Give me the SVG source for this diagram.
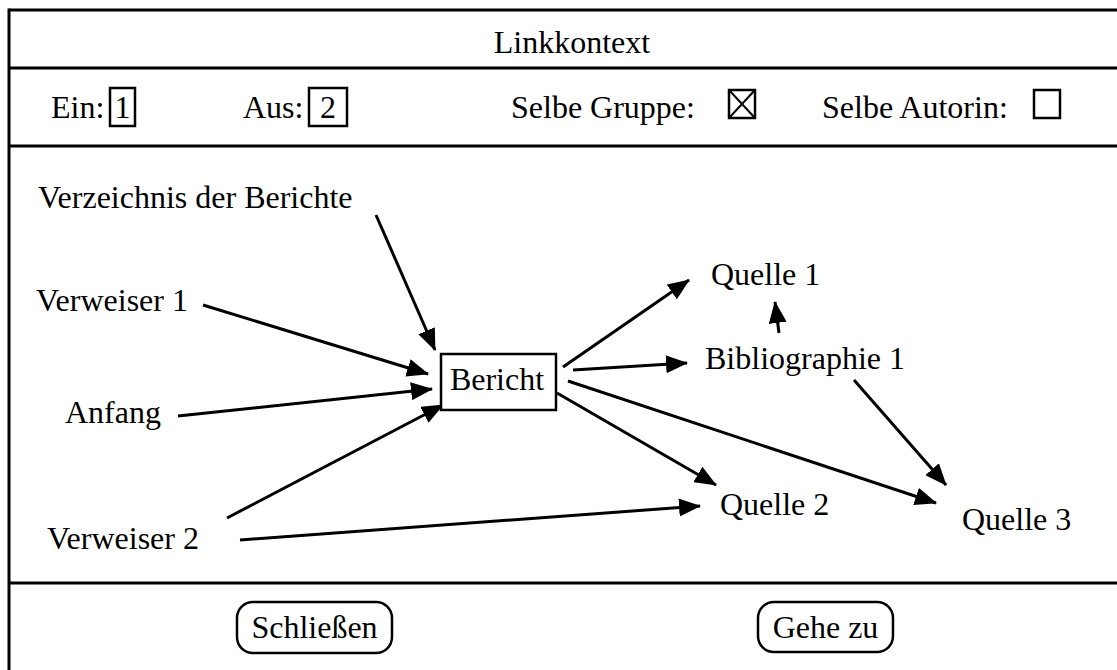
<svg xmlns="http://www.w3.org/2000/svg" width="1117" height="670" viewBox="0 0 1117 670">
  <style>
    text { font-family: "Liberation Serif", "Times New Roman", serif; font-size: 32px; fill: #000; }
    .rule { stroke: #000; stroke-width: 3; fill: none; }
    .box { stroke: #000; stroke-width: 2.5; fill: #fff; }
    .btn { stroke: #000; stroke-width: 2.5; fill: #fff; }
    .edge { stroke: #000; stroke-width: 3; fill: none; marker-end: url(#arrow); }
  </style>
  <defs>
    <marker id="arrow" markerUnits="userSpaceOnUse" viewBox="0 0 22 18" markerWidth="22" markerHeight="18" refX="21" refY="9" orient="auto">
      <path d="M0,0 L22,9 L0,18 Z" fill="#000"/>
    </marker>
  </defs>

  <rect width="1117" height="670" fill="#fff"/>

  <!-- window frame and section rules -->
  <g id="frame">
    <line class="rule" x1="9" y1="10" x2="1117" y2="10"/>
    <line class="rule" x1="9" y1="8.5" x2="9" y2="670"/>
    <line class="rule" x1="9" y1="68" x2="1117" y2="68"/>
    <line class="rule" x1="9" y1="146" x2="1117" y2="146"/>
    <line class="rule" x1="9" y1="583" x2="1117" y2="583"/>
  </g>

  <g id="title">
    <text x="572" y="53" text-anchor="middle">Linkkontext</text>
  </g>

  <!-- filter row -->
  <g id="filter-in">
    <text x="51" y="118">Ein:</text>
    <rect class="box" x="110" y="88" width="25" height="38"/>
    <text x="122.5" y="118" text-anchor="middle">1</text>
  </g>
  <g id="filter-out">
    <text x="243" y="118">Aus:</text>
    <rect class="box" x="309" y="88" width="38" height="38"/>
    <text x="328" y="118" text-anchor="middle">2</text>
  </g>
  <g id="same-group">
    <text x="511" y="118">Selbe Gruppe:</text>
    <rect class="box" x="729" y="90" width="26" height="28"/>
    <path d="M729,90 L755,118 M755,90 L729,118" stroke="#000" stroke-width="2"/>
  </g>
  <g id="same-author">
    <text x="822" y="118">Selbe Autorin:</text>
    <rect class="box" x="1034" y="90" width="26" height="28"/>
  </g>

  <!-- link graph -->
  <g id="connectors">
    <line class="edge" x1="376" y1="215" x2="435" y2="350"/>
    <line class="edge" x1="203" y1="305" x2="428" y2="374"/>
    <line class="edge" x1="178" y1="416" x2="432" y2="389"/>
    <line class="edge" x1="227" y1="518" x2="443" y2="405"/>
    <line class="edge" x1="240" y1="540" x2="700" y2="506"/>
    <line class="edge" x1="563" y1="367" x2="689" y2="280"/>
    <line class="edge" x1="573" y1="370" x2="687" y2="363"/>
    <line class="edge" x1="779" y1="333" x2="775" y2="302"/>
    <line class="edge" x1="557" y1="393" x2="716" y2="485"/>
    <line class="edge" x1="568" y1="381" x2="936" y2="503"/>
    <line class="edge" x1="854" y1="380" x2="946" y2="485"/>
  </g>

  <g id="node-verzeichnis"><text x="38" y="208">Verzeichnis der Berichte</text></g>
  <g id="node-verweiser1"><text x="36" y="311">Verweiser 1</text></g>
  <g id="node-anfang"><text x="65" y="423">Anfang</text></g>
  <g id="node-verweiser2"><text x="47" y="549">Verweiser 2</text></g>
  <g id="node-bericht">
    <rect class="box" x="441" y="354" width="115" height="56"/>
    <text x="497" y="390" text-anchor="middle">Bericht</text>
  </g>
  <g id="node-quelle1"><text x="711" y="285">Quelle 1</text></g>
  <g id="node-bibliographie1"><text x="705" y="369">Bibliographie 1</text></g>
  <g id="node-quelle2"><text x="720" y="515">Quelle 2</text></g>
  <g id="node-quelle3"><text x="962" y="530">Quelle 3</text></g>

  <!-- buttons -->
  <g id="btn-close">
    <rect class="btn" x="237" y="602" width="155" height="51" rx="16"/>
    <text x="314.5" y="638" text-anchor="middle">Schließen</text>
  </g>
  <g id="btn-goto">
    <rect class="btn" x="758" y="602" width="135" height="50" rx="16"/>
    <text x="825.5" y="638" text-anchor="middle">Gehe zu</text>
  </g>
</svg>
